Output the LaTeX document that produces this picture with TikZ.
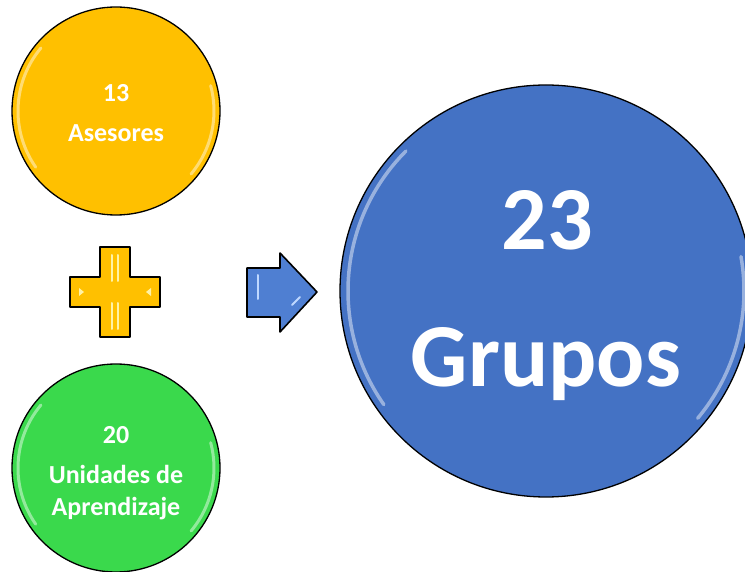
\documentclass[tikz,border=0pt]{standalone}
\usepackage{fontspec}
\setmainfont{Carlito}
\definecolor{cyellow}{HTML}{FFC000}
\definecolor{cgreen}{HTML}{3AD94C}
\definecolor{cblue}{HTML}{4472C4}
\definecolor{carrow}{HTML}{4F7FD2}
\definecolor{lyellow}{HTML}{FFF2A6}
\definecolor{lblue}{HTML}{BFD8FF}
\begin{document}
\begin{tikzpicture}[x=1pt,y=1pt,
  disc/.style={circle, draw=black, line width=1.3pt, minimum size=#1, inner sep=0pt},
  lbl/.style={text=white, font=\bfseries\fontsize{26}{30}\selectfont, anchor=base},
  big/.style={text=white, font=\bfseries\fontsize{90}{100}\selectfont, anchor=base},
  gloss/.style={white, line width=3pt, line cap=round, opacity=0.45},
  shapeline/.style={draw=black, line width=1.6pt, line join=round},
  shine/.style={line width=2pt, line cap=round}]
\useasboundingbox (0,0) rectangle (745,571);
% discs
\node[disc=208pt, fill=cyellow] (yc) at (116,460) {};
\node[disc=208pt, fill=cgreen] (gc) at (116,103) {};
\node[disc=412pt, fill=cblue] (bc) at (546,280) {};
% gloss highlights
\draw[gloss] (yc.center) ++(140:98) arc (140:215:98);
\draw[gloss] (yc.center) ++(-40:98) arc (-40:15:98);
\draw[gloss] (gc.center) ++(140:98) arc (140:215:98);
\draw[gloss] (gc.center) ++(-40:98) arc (-40:15:98);
\draw[gloss, line width=3.5pt] (bc.center) ++(135:198) arc (135:215:198);
\draw[gloss, line width=3.5pt] (bc.center) ++(-40:198) arc (-40:10:198);
% plus sign
\fill[cyellow] (100,324) -- (130,324) -- (130,294) -- (160,294) -- (160,264) -- (130,264) -- (130,234) -- (100,234) -- (100,264) -- (70,264) -- (70,294) -- (100,294) -- cycle;
\draw[shine, lyellow] (112,316) -- (112,290);
\draw[shine, lyellow] (118,316) -- (118,290);
\draw[shine, lyellow] (112,268) -- (112,242);
\draw[shine, lyellow] (118,268) -- (118,242);
\fill[lyellow] (79,283) -- (84,279) -- (79,275) -- cycle;
\fill[lyellow] (151,283) -- (146,279) -- (151,275) -- cycle;
\draw[shapeline] (100,324) -- (130,324) -- (130,294) -- (160,294) -- (160,264) -- (130,264) -- (130,234) -- (100,234) -- (100,264) -- (70,264) -- (70,294) -- (100,294) -- cycle;
% arrow
\fill[carrow] (247,303) -- (280,303) -- (280,318) -- (317,279) -- (280,239) -- (280,254) -- (247,254) -- cycle;
\draw[shine, lblue] (258,296) -- (258,272);
\draw[shine, lblue] (292,266) -- (300,274);
\draw[shapeline] (247,303) -- (280,303) -- (280,318) -- (317,279) -- (280,239) -- (280,254) -- (247,254) -- cycle;
% labels
\node[lbl] (y1) at (116,469) {13};
\node[lbl] (y2) at (116,429) {Asesores};
\node[lbl] (g1) at (116,128) {20};
\node[lbl] (g2) at (116,88) {Unidades de};
\node[lbl] (g3) at (116,56) {Aprendizaje};
\node[big] (b1) at (547,321) {23};
\node[big] (b2) at (546,184) {Grupos};
\end{tikzpicture}
\end{document}
